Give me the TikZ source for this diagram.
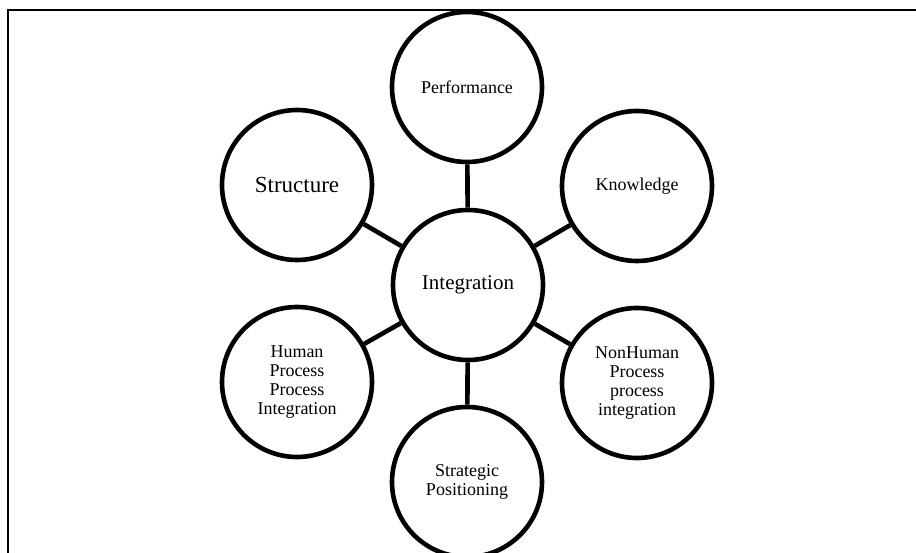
\documentclass[tikz,border=0pt]{standalone}
\usepackage{fontspec}
\setmainfont{Liberation Serif}
\begin{document}
\begin{tikzpicture}[x=1pt,y=-1pt,
  bubble/.style={circle,draw=black,fill=white,line width=4.6pt,inner sep=0pt,
    minimum size=150pt,align=center,font=\fontsize{18}{19}\selectfont},
  link/.style={line width=4.6pt,draw=black}]
\useasboundingbox (0,0) rectangle (916,553);
% open frame along the left and top edges
\draw[line width=1.3pt] (8,553) -- (8,10) -- (916,10);
% outer circles
\node[bubble] (perf) at (467,87) {Performance};
\node[bubble,font=\fontsize{23}{24}\selectfont] (struct) at (297,185) {Structure};
\node[bubble] (know) at (637,186) {Knowledge};
\node[bubble] (human) at (297,382) {Human\\Process\\Process\\Integration};
\node[bubble] (nonhuman) at (637,383) {NonHuman\\Process\\process\\integration};
\node[bubble] (strat) at (467,482) {Strategic\\Positioning};
% hub
\node[bubble,font=\fontsize{21}{22}\selectfont] (integ) at (468,285) {Integration};
% spokes
\foreach \n in {perf,struct,know,human,nonhuman,strat}
  \draw[link] (integ) -- (\n);
\end{tikzpicture}
\end{document}
